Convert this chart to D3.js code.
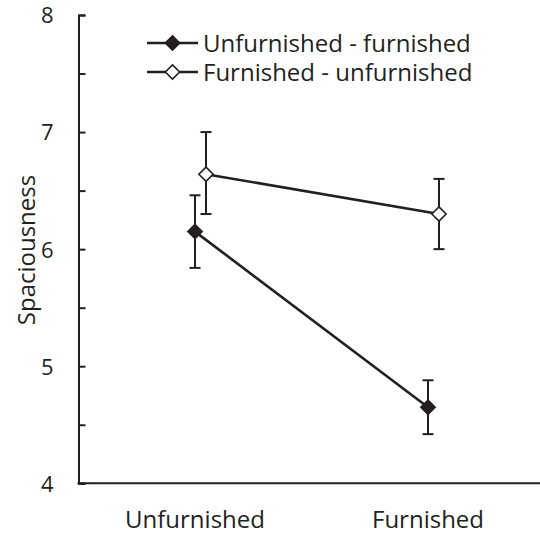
<!DOCTYPE html>
<html><head><meta charset="utf-8">
<script src="https://cdn.jsdelivr.net/npm/d3@7"></script>
<style>
body{margin:0;background:#fff;}
text{font-family:"Open Sans",sans-serif;fill:#231f20;}
</style></head>
<body><svg id="c" width="540" height="535"></svg>
<script>
const categories = ["Unfurnished", "Furnished"];
const seriesNames = ["Unfurnished - furnished", "Furnished - unfurnished"];
const filledMean = [6.15, 4.65];
const filledLow  = [5.84, 4.42];
const filledHigh = [6.46, 4.88];
const openMean = [6.64, 6.30];
const openLow  = [6.30, 6.00];
const openHigh = [7.00, 6.60];
const yTicks = [4, 5, 6, 7, 8];
const yMinorTicks = [4.5, 5.5, 6.5, 7.5];
const yLabel = "Spaciousness";

const ink = "#231f20";
const svg = d3.select("#c");
const mLeft = 78.5, mRight = 544.5, mTop = 15, mBottom = 483.3;

const x = d3.scaleBand().domain(categories).range([mLeft, mRight]);
const y = d3.scaleLinear().domain([4, 8]).range([mBottom, mTop]);

const series = [
  {name: seriesNames[0], mean: filledMean, lo: filledLow, hi: filledHigh, fill: ink, dx: 0},
  {name: seriesNames[1], mean: openMean, lo: openLow, hi: openHigh, fill: "#fff", dx: 11}
];

// y axis
const yAxis = d3.axisLeft(y).tickValues(yTicks).tickSize(-7).tickPadding(25).tickFormat(d3.format("d"));
const ga = svg.append("g").attr("transform", `translate(${mLeft},0)`).call(yAxis);
ga.select(".domain").attr("stroke", ink).attr("stroke-width", 2);
ga.selectAll(".tick line").attr("stroke", ink).attr("stroke-width", 2);
ga.selectAll(".tick text").attr("font-size", 22).attr("fill", ink).attr("dy", "0.36em");
const gm = svg.append("g").attr("transform", `translate(${mLeft},0)`)
  .call(d3.axisLeft(y).tickValues(yMinorTicks).tickSize(-7).tickFormat(""));
gm.select(".domain").remove();
gm.selectAll(".tick line").attr("stroke", ink).attr("stroke-width", 2);

// x axis
const xAxis = d3.axisBottom(x).tickSize(0).tickPadding(28);
const gx = svg.append("g").attr("transform", `translate(0,${mBottom})`).call(xAxis);
gx.select(".domain").attr("stroke", ink).attr("stroke-width", 2).attr("d", `M${mLeft - 1},0H540`);
gx.selectAll(".tick text").attr("font-size", 24).attr("fill", ink);

// y label
svg.append("text").attr("transform", `translate(35,250) rotate(-90)`)
  .attr("text-anchor", "middle").attr("font-size", 24).text(yLabel);

const diamond = d3.symbol().type(d3.symbolDiamond2).size(130);
const line = d3.line();

series.forEach(s => {
  const g = svg.append("g");
  const px = i => x(categories[i]) + x.bandwidth() / 2 + s.dx;
  categories.forEach((c, i) => {
    g.append("line").attr("x1", px(i)).attr("x2", px(i)).attr("y1", y(s.lo[i])).attr("y2", y(s.hi[i]))
      .attr("stroke", ink).attr("stroke-width", 2);
    [s.lo[i], s.hi[i]].forEach(v => {
      g.append("line").attr("x1", px(i) - 5.5).attr("x2", px(i) + 5.5).attr("y1", y(v)).attr("y2", y(v))
        .attr("stroke", ink).attr("stroke-width", 2);
    });
  });
  g.append("path").attr("d", line(categories.map((c, i) => [px(i), y(s.mean[i])])))
    .attr("fill", "none").attr("stroke", ink).attr("stroke-width", 2.6);
  categories.forEach((c, i) => {
    g.append("path").attr("d", diamond).attr("transform", `translate(${px(i)},${y(s.mean[i])})`)
      .attr("fill", s.fill).attr("stroke", ink).attr("stroke-width", 1.6);
  });
});

// legend
const lg = svg.append("g");
series.forEach((s, i) => {
  const ly = 43 + i * 29;
  lg.append("line").attr("x1", 147).attr("x2", 198).attr("y1", ly).attr("y2", ly)
    .attr("stroke", ink).attr("stroke-width", 2.6);
  lg.append("path").attr("d", diamond).attr("transform", `translate(172.5,${ly})`)
    .attr("fill", s.fill).attr("stroke", ink).attr("stroke-width", 1.6);
  lg.append("text").attr("x", 203).attr("y", ly).attr("dy", "0.36em")
    .attr("font-size", 24).text(s.name);
});
</script></body></html>
